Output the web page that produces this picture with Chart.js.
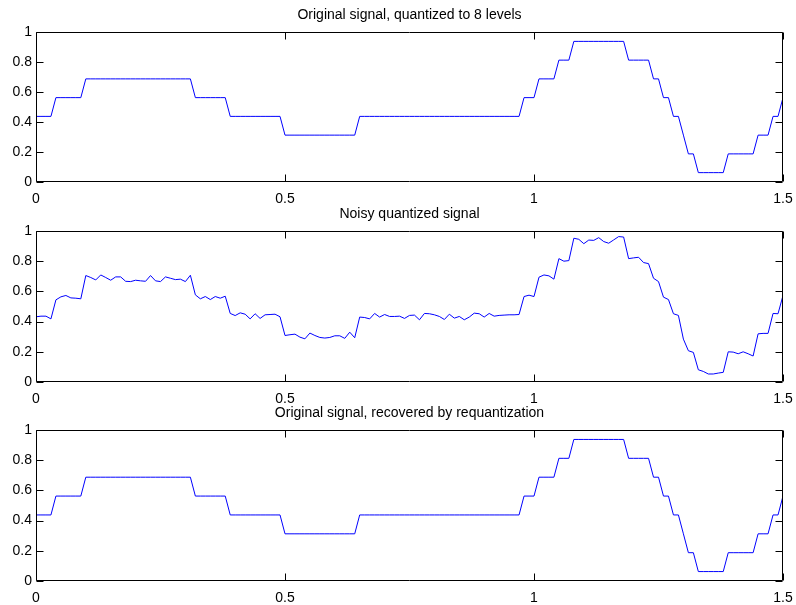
<!DOCTYPE html>
<html>
<head>
<meta charset="utf-8">
<script src="https://cdn.jsdelivr.net/npm/chart.js@4"></script>
<style>
  html, body { margin: 0; padding: 0; background: #fff; overflow: hidden; }
  canvas { position: absolute; left: 0; }
</style>
</head>
<body>
<canvas id="c1" width="796" height="210" style="top:0px"></canvas>
<canvas id="c2" width="796" height="210" style="top:199px"></canvas>
<canvas id="c3" width="796" height="207" style="top:398px"></canvas>
<script>
// sample spacing of the signal (151 samples from 0 to 1.5)
const sampleStep = 0.01;
const xTicks = [0, 0.5, 1, 1.5];
const yTicks = [0, 0.2, 0.4, 0.6, 0.8, 1];

const titles = [
  'Original signal, quantized to 8 levels',
  'Noisy quantized signal',
  'Original signal, recovered by requantization'
];

const quantized = [
  0.4375, 0.4375, 0.4375, 0.4375, 0.5625, 0.5625, 0.5625, 0.5625, 0.5625, 0.5625,
  0.6875, 0.6875, 0.6875, 0.6875, 0.6875, 0.6875, 0.6875, 0.6875, 0.6875, 0.6875,
  0.6875, 0.6875, 0.6875, 0.6875, 0.6875, 0.6875, 0.6875, 0.6875, 0.6875, 0.6875,
  0.6875, 0.6875, 0.5625, 0.5625, 0.5625, 0.5625, 0.5625, 0.5625, 0.5625, 0.4375,
  0.4375, 0.4375, 0.4375, 0.4375, 0.4375, 0.4375, 0.4375, 0.4375, 0.4375, 0.4375,
  0.3125, 0.3125, 0.3125, 0.3125, 0.3125, 0.3125, 0.3125, 0.3125, 0.3125, 0.3125,
  0.3125, 0.3125, 0.3125, 0.3125, 0.3125, 0.4375, 0.4375, 0.4375, 0.4375, 0.4375,
  0.4375, 0.4375, 0.4375, 0.4375, 0.4375, 0.4375, 0.4375, 0.4375, 0.4375, 0.4375,
  0.4375, 0.4375, 0.4375, 0.4375, 0.4375, 0.4375, 0.4375, 0.4375, 0.4375, 0.4375,
  0.4375, 0.4375, 0.4375, 0.4375, 0.4375, 0.4375, 0.4375, 0.4375, 0.5625, 0.5625,
  0.5625, 0.6875, 0.6875, 0.6875, 0.6875, 0.8125, 0.8125, 0.8125, 0.9375, 0.9375,
  0.9375, 0.9375, 0.9375, 0.9375, 0.9375, 0.9375, 0.9375, 0.9375, 0.9375, 0.8125,
  0.8125, 0.8125, 0.8125, 0.8125, 0.6875, 0.6875, 0.5625, 0.5625, 0.4375, 0.4375,
  0.3125, 0.1875, 0.1875, 0.0625, 0.0625, 0.0625, 0.0625, 0.0625, 0.0625, 0.1875,
  0.1875, 0.1875, 0.1875, 0.1875, 0.1875, 0.3125, 0.3125, 0.3125, 0.4375, 0.4375,
  0.5625
];

const noisy = [
  0.432, 0.436, 0.436, 0.418, 0.544, 0.564, 0.573, 0.557, 0.555, 0.551,
  0.705, 0.692, 0.676, 0.709, 0.692, 0.674, 0.696, 0.696, 0.667, 0.665,
  0.674, 0.670, 0.667, 0.705, 0.670, 0.665, 0.696, 0.687, 0.678, 0.681,
  0.665, 0.707, 0.577, 0.551, 0.566, 0.546, 0.566, 0.555, 0.568, 0.454,
  0.440, 0.458, 0.449, 0.418, 0.452, 0.421, 0.445, 0.447, 0.449, 0.432,
  0.308, 0.313, 0.317, 0.297, 0.286, 0.324, 0.308, 0.295, 0.291, 0.295,
  0.306, 0.306, 0.289, 0.330, 0.293, 0.430, 0.427, 0.418, 0.454, 0.430,
  0.447, 0.434, 0.434, 0.436, 0.421, 0.441, 0.443, 0.412, 0.454, 0.452,
  0.445, 0.434, 0.414, 0.449, 0.423, 0.434, 0.412, 0.430, 0.456, 0.452,
  0.430, 0.454, 0.436, 0.441, 0.443, 0.445, 0.445, 0.447, 0.566, 0.575,
  0.566, 0.694, 0.709, 0.703, 0.681, 0.817, 0.800, 0.804, 0.952, 0.945,
  0.916, 0.940, 0.938, 0.956, 0.930, 0.919, 0.941, 0.963, 0.960, 0.817,
  0.822, 0.826, 0.791, 0.784, 0.687, 0.665, 0.562, 0.546, 0.452, 0.441,
  0.284, 0.207, 0.196, 0.081, 0.070, 0.053, 0.053, 0.059, 0.064, 0.200,
  0.198, 0.187, 0.200, 0.187, 0.172, 0.319, 0.322, 0.322, 0.454, 0.452,
  0.573
];

const recovered = [
  0.4375, 0.4375, 0.4375, 0.4375, 0.5625, 0.5625, 0.5625, 0.5625, 0.5625, 0.5625,
  0.6875, 0.6875, 0.6875, 0.6875, 0.6875, 0.6875, 0.6875, 0.6875, 0.6875, 0.6875,
  0.6875, 0.6875, 0.6875, 0.6875, 0.6875, 0.6875, 0.6875, 0.6875, 0.6875, 0.6875,
  0.6875, 0.6875, 0.5625, 0.5625, 0.5625, 0.5625, 0.5625, 0.5625, 0.5625, 0.4375,
  0.4375, 0.4375, 0.4375, 0.4375, 0.4375, 0.4375, 0.4375, 0.4375, 0.4375, 0.4375,
  0.3125, 0.3125, 0.3125, 0.3125, 0.3125, 0.3125, 0.3125, 0.3125, 0.3125, 0.3125,
  0.3125, 0.3125, 0.3125, 0.3125, 0.3125, 0.4375, 0.4375, 0.4375, 0.4375, 0.4375,
  0.4375, 0.4375, 0.4375, 0.4375, 0.4375, 0.4375, 0.4375, 0.4375, 0.4375, 0.4375,
  0.4375, 0.4375, 0.4375, 0.4375, 0.4375, 0.4375, 0.4375, 0.4375, 0.4375, 0.4375,
  0.4375, 0.4375, 0.4375, 0.4375, 0.4375, 0.4375, 0.4375, 0.4375, 0.5625, 0.5625,
  0.5625, 0.6875, 0.6875, 0.6875, 0.6875, 0.8125, 0.8125, 0.8125, 0.9375, 0.9375,
  0.9375, 0.9375, 0.9375, 0.9375, 0.9375, 0.9375, 0.9375, 0.9375, 0.9375, 0.8125,
  0.8125, 0.8125, 0.8125, 0.8125, 0.6875, 0.6875, 0.5625, 0.5625, 0.4375, 0.4375,
  0.3125, 0.1875, 0.1875, 0.0625, 0.0625, 0.0625, 0.0625, 0.0625, 0.0625, 0.1875,
  0.1875, 0.1875, 0.1875, 0.1875, 0.1875, 0.3125, 0.3125, 0.3125, 0.4375, 0.4375,
  0.5625
];

const font = { family: "'Liberation Sans', Arial, Helvetica, sans-serif", size: 14, weight: 'normal' };
const tickLabel = v => String(Math.round(v * 100) / 100);

// matlab style box with inward tick marks
const boxTicks = {
  id: 'boxTicks',
  afterDraw(chart) {
    const ctx = chart.ctx;
    const a = chart.chartArea;
    const l = Math.round(a.left) + 0.5, r = Math.round(a.right) - 0.5;
    const t = Math.round(a.top) + 0.5, b = Math.round(a.bottom) - 0.5;
    const len = 7;
    ctx.save();
    ctx.strokeStyle = '#000';
    ctx.lineWidth = 1;
    ctx.beginPath();
    ctx.rect(l, t, r - l, b - t);
    chart.scales.x.ticks.forEach(tk => {
      const px = Math.round(chart.scales.x.getPixelForValue(tk.value)) + 0.5;
      ctx.moveTo(px, b); ctx.lineTo(px, b - len);
      ctx.moveTo(px, t); ctx.lineTo(px, t + len);
    });
    chart.scales.y.ticks.forEach(tk => {
      const py = Math.round(chart.scales.y.getPixelForValue(tk.value)) + 0.5;
      ctx.moveTo(l, py); ctx.lineTo(l + len, py);
      ctx.moveTo(r, py); ctx.lineTo(r - len, py);
    });
    ctx.stroke();
    ctx.restore();
  }
};

const makePanel = function (id, title, values, plotBottom) {
  const canvas = document.getElementById(id);
  const h = canvas.height;
  return new Chart(canvas, {
    type: 'line',
    data: {
      datasets: [{
        data: values.map((v, i) => ({ x: i * sampleStep, y: v })),
        borderColor: 'rgb(0,0,255)',
        borderWidth: 1,
        pointRadius: 0,
        tension: 0,
        fill: false
      }]
    },
    options: {
      responsive: false,
      animation: false,
      events: [],
      layout: { padding: { left: 0, right: 13, top: 0, bottom: 0 } },
      plugins: {
        legend: { display: false },
        tooltip: { enabled: false },
        title: {
          display: true,
          text: title,
          fullSize: false,
          color: '#000',
          font: font,
          padding: { top: 7, bottom: 8.2 }
        }
      },
      scales: {
        x: {
          type: 'linear',
          min: 0,
          max: 1.5,
          afterBuildTicks: s => { s.ticks = xTicks.map(v => ({ value: v })); },
          afterFit: s => {
            s.height = h - plotBottom;
            s.paddingLeft = 0;
            s.paddingRight = 0;
          },
          grid: { display: false, drawTicks: false },
          border: { display: false },
          ticks: { color: '#000', font: font, padding: 9, maxRotation: 0, autoSkip: false, callback: tickLabel }
        },
        y: {
          min: 0,
          max: 1,
          afterBuildTicks: s => { s.ticks = yTicks.map(v => ({ value: v })); },
          afterFit: s => {
            s.width = 36;
            s.paddingTop = 0;
            s.paddingBottom = 0;
          },
          grid: { display: false, drawTicks: false },
          border: { display: false },
          ticks: { color: '#000', font: font, padding: 4, callback: tickLabel }
        }
      }
    },
    plugins: [boxTicks]
  });
};

makePanel('c1', titles[0], quantized, 182);
makePanel('c2', titles[1], noisy, 183);
makePanel('c3', titles[2], recovered, 183);
</script>
</body>
</html>
